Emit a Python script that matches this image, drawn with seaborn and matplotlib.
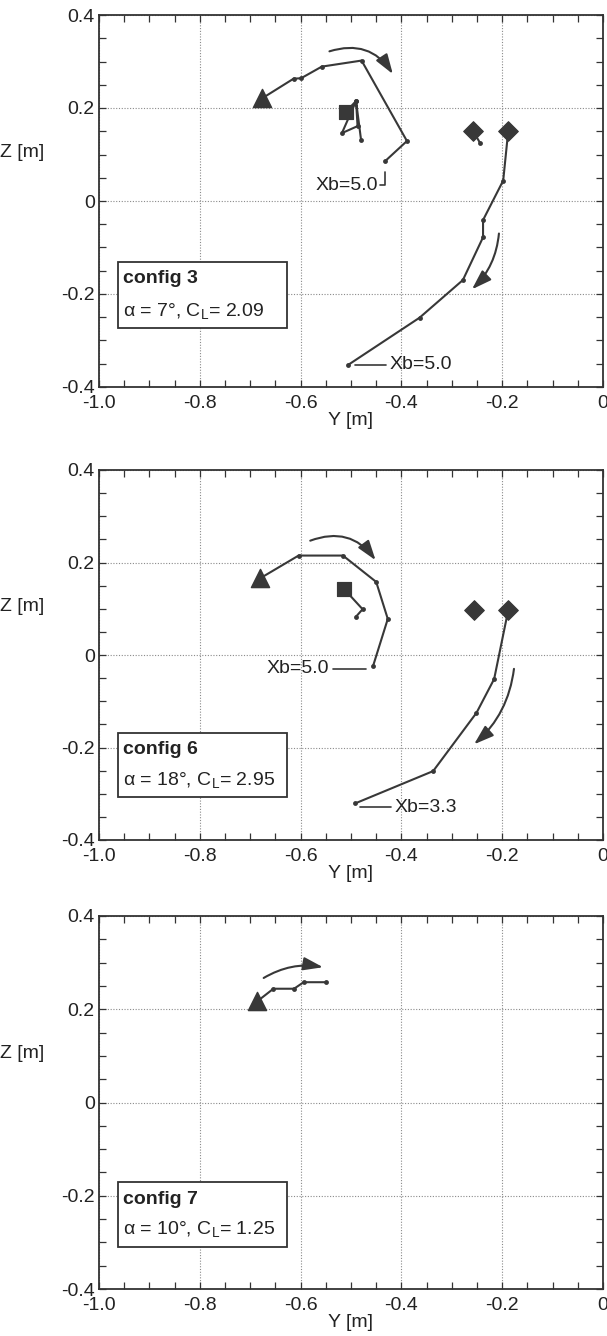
import matplotlib
matplotlib.use("Agg")
import matplotlib.pyplot as plt
import matplotlib.transforms as mtransforms
import seaborn as sns
from matplotlib.patches import Rectangle, FancyArrowPatch
from matplotlib.ticker import MultipleLocator, FixedLocator

sns.set_style("ticks")
plt.rcParams["font.family"] = ["Liberation Sans", "DejaVu Sans"]
plt.rcParams["mathtext.fontset"] = "custom"
plt.rcParams["mathtext.rm"] = "Liberation Sans"
plt.rcParams["mathtext.it"] = "Liberation Sans:italic"

INK = "#383838"
TXT = "#222222"
FS = 14

# ---- tick labels ----
y_ticks = [-1.0, -0.8, -0.6, -0.4, -0.2, 0.0]
y_tick_labels = ["-1.0", "-0.8", "-0.6", "-0.4", "-0.2", "0"]
z_ticks = [-0.4, -0.2, 0.0, 0.2, 0.4]
z_tick_labels = ["-0.4", "-0.2", "0", "0.2", "0.4"]

# ---- config 3 ----
c3_upper_y = [-0.676, -0.614, -0.599, -0.558, -0.479, -0.389, -0.432]
c3_upper_z = [0.221, 0.263, 0.264, 0.289, 0.302, 0.129, 0.086]
c3_inner_y = [-0.510, -0.490, -0.518, -0.487, -0.490, -0.480]
c3_inner_z = [0.192, 0.215, 0.146, 0.161, 0.215, 0.131]
c3_lower_y = [-0.188, -0.198, -0.238, -0.238, -0.278, -0.364, -0.505]
c3_lower_z = [0.151, 0.044, -0.041, -0.078, -0.170, -0.251, -0.352]
c3_tail_y = [-0.258, -0.244]
c3_tail_z = [0.151, 0.125]
c3_diamond_y = [-0.258, -0.188]
c3_diamond_z = [0.151, 0.151]

# ---- config 6 ----
c6_upper_y = [-0.680, -0.604, -0.516, -0.450, -0.427, -0.456]
c6_upper_z = [0.166, 0.215, 0.215, 0.158, 0.078, -0.023]
c6_inner_y = [-0.514, -0.477, -0.490]
c6_inner_z = [0.143, 0.099, 0.083]
c6_lower_y = [-0.188, -0.216, -0.251, -0.337, -0.492]
c6_lower_z = [0.097, -0.052, -0.125, -0.251, -0.321]
c6_diamond_y = [-0.256, -0.188]
c6_diamond_z = [0.097, 0.097]

# ---- config 7 ----
c7_upper_y = [-0.686, -0.654, -0.613, -0.594, -0.550]
c7_upper_z = [0.217, 0.244, 0.244, 0.258, 0.258]

panels = [
    dict(
        name="config 3", alpha="7", cl="2.09",
        lines=[(c3_upper_y, c3_upper_z), (c3_inner_y, c3_inner_z),
               (c3_lower_y, c3_lower_z), (c3_tail_y, c3_tail_z)],
        triangle=(c3_upper_y[0], c3_upper_z[0]),
        square=(c3_inner_y[0], c3_inner_z[0]),
        diamonds=(c3_diamond_y, c3_diamond_z),
        arrows=[((-0.548, 0.320), (-0.414, 0.268), -0.4),
                ((-0.206, -0.064), (-0.264, -0.194), -0.2)],
        box=(-0.131, -0.274),
        pos=(15, 387),
    ),
    dict(
        name="config 6", alpha="18", cl="2.95",
        lines=[(c6_upper_y, c6_upper_z), (c6_inner_y, c6_inner_z),
               (c6_lower_y, c6_lower_z)],
        triangle=(c6_upper_y[0], c6_upper_z[0]),
        square=(c6_inner_y[0], c6_inner_z[0]),
        diamonds=(c6_diamond_y, c6_diamond_z),
        arrows=[((-0.586, 0.245), (-0.448, 0.200), -0.4),
                ((-0.176, -0.024), (-0.260, -0.197), -0.2)],
        box=(-0.169, -0.307),
        pos=(470, 840),
    ),
    dict(
        name="config 7", alpha="10", cl="1.25",
        lines=[(c7_upper_y, c7_upper_z)],
        triangle=(c7_upper_y[0], c7_upper_z[0]),
        square=None,
        diamonds=None,
        arrows=[((-0.678, 0.264), (-0.550, 0.289), -0.2)],
        box=(-0.171, -0.309),
        pos=(916, 1289),
    ),
]

W, H = 607, 1336
fig = plt.figure(figsize=(W / 100, H / 100), dpi=100)
left_px, right_px = 99, 603

axes = []
for p in panels:
    top_px, bot_px = p["pos"]
    ax = fig.add_axes([left_px / W, 1 - bot_px / H,
                       (right_px - left_px) / W, (bot_px - top_px) / H])
    axes.append(ax)
    ax.set_xlim(-1.0, 0.0)
    ax.set_ylim(-0.4, 0.4)
    ax.xaxis.set_major_locator(FixedLocator(y_ticks))
    ax.set_xticklabels(y_tick_labels)
    ax.yaxis.set_major_locator(FixedLocator(z_ticks))
    ax.set_yticklabels(z_tick_labels)
    ax.xaxis.set_minor_locator(MultipleLocator(0.05))
    ax.yaxis.set_minor_locator(MultipleLocator(0.05))
    ax.tick_params(which="both", direction="in", top=True, right=True,
                   length=5, width=0.9, color="#333333", labelsize=FS,
                   labelcolor=TXT)
    ax.tick_params(axis="x", which="major", pad=6)
    ax.tick_params(axis="y", which="major", pad=3)
    ax.grid(True, which="major", linestyle=(0, (1, 1.5)), color="#8a8a8a",
            linewidth=0.8)
    for sp in ax.spines.values():
        sp.set_linewidth(1.3)
        sp.set_color("#333333")
    ax.set_xlabel("Y [m]", fontsize=FS, color=TXT, labelpad=0)
    ax.set_ylabel("")
    tr = mtransforms.blended_transform_factory(fig.transFigure, ax.transData)
    ax.text(22 / W, 0.105, "Z [m]", transform=tr, fontsize=FS,
            color=TXT, ha="center", va="center")

    # trajectories
    for ys, zs in p["lines"]:
        sns.lineplot(x=ys, y=zs, ax=ax, sort=False, estimator=None,
                     color=INK, linewidth=1.5, marker="o", markersize=3.5,
                     markeredgewidth=0, markerfacecolor=INK, zorder=3)
    ty, tz = p["triangle"]
    sns.scatterplot(x=[ty], y=[tz], ax=ax, marker="^", s=170, color=INK,
                    edgecolor=INK, zorder=5)
    if p["square"] is not None:
        sy, sz = p["square"]
        sns.scatterplot(x=[sy], y=[sz], ax=ax, marker="s", s=110, color=INK,
                        edgecolor=INK, zorder=5)
    if p["diamonds"] is not None:
        dy, dz = p["diamonds"]
        sns.scatterplot(x=dy, y=dz, ax=ax, marker="D", s=100, color=INK,
                        edgecolor=INK, zorder=5)

    for (x0, y0), (x1, y1), rad in p["arrows"]:
        arr = FancyArrowPatch((x0, y0), (x1, y1),
                              connectionstyle=f"arc3,rad={rad}",
                              arrowstyle="-|>,head_length=0.75,head_width=0.25",
                              mutation_scale=16, color=INK, linewidth=1.5,
                              zorder=4)
        ax.add_patch(arr)

    # caption box
    btop, bbot = p["box"]
    ax.add_patch(Rectangle((-0.962, bbot), 0.335, btop - bbot, facecolor="white",
                           edgecolor="#333333", linewidth=1.3, zorder=6))
    ax.text(-0.952, btop - 0.036, p["name"], fontsize=FS, fontweight="bold",
            color=TXT, ha="left", va="center", zorder=7)
    ax.text(-0.952, bbot + 0.027,
            f"α = {p['alpha']}°, C$_\\mathrm{{L}}$= {p['cl']}",
            fontsize=FS, color=TXT, ha="left", va="baseline", zorder=7)

ax1, ax2, ax3 = axes
# Xb annotations
lw_lab = 1.2
ax1.plot([-0.443, -0.433, -0.433], [0.0335, 0.0335, 0.062], color=INK, lw=lw_lab)
ax1.text(-0.447, 0.0335, "Xb=5.0", fontsize=FS, color=TXT,
         ha="right", va="center")
ax1.plot([-0.492, -0.430], [-0.352, -0.352], color=INK, lw=lw_lab)
ax1.text(-0.424, -0.352, "Xb=5.0", fontsize=FS, color=TXT,
         ha="left", va="center")
ax2.plot([-0.536, -0.470], [-0.030, -0.030], color=INK, lw=lw_lab)
ax2.text(-0.543, -0.030, "Xb=5.0", fontsize=FS, color=TXT,
         ha="right", va="center")
ax2.plot([-0.483, -0.420], [-0.329, -0.329], color=INK, lw=lw_lab)
ax2.text(-0.414, -0.329, "Xb=3.3", fontsize=FS, color=TXT,
         ha="left", va="center")

fig.savefig("out.png", dpi=100, facecolor="white")
